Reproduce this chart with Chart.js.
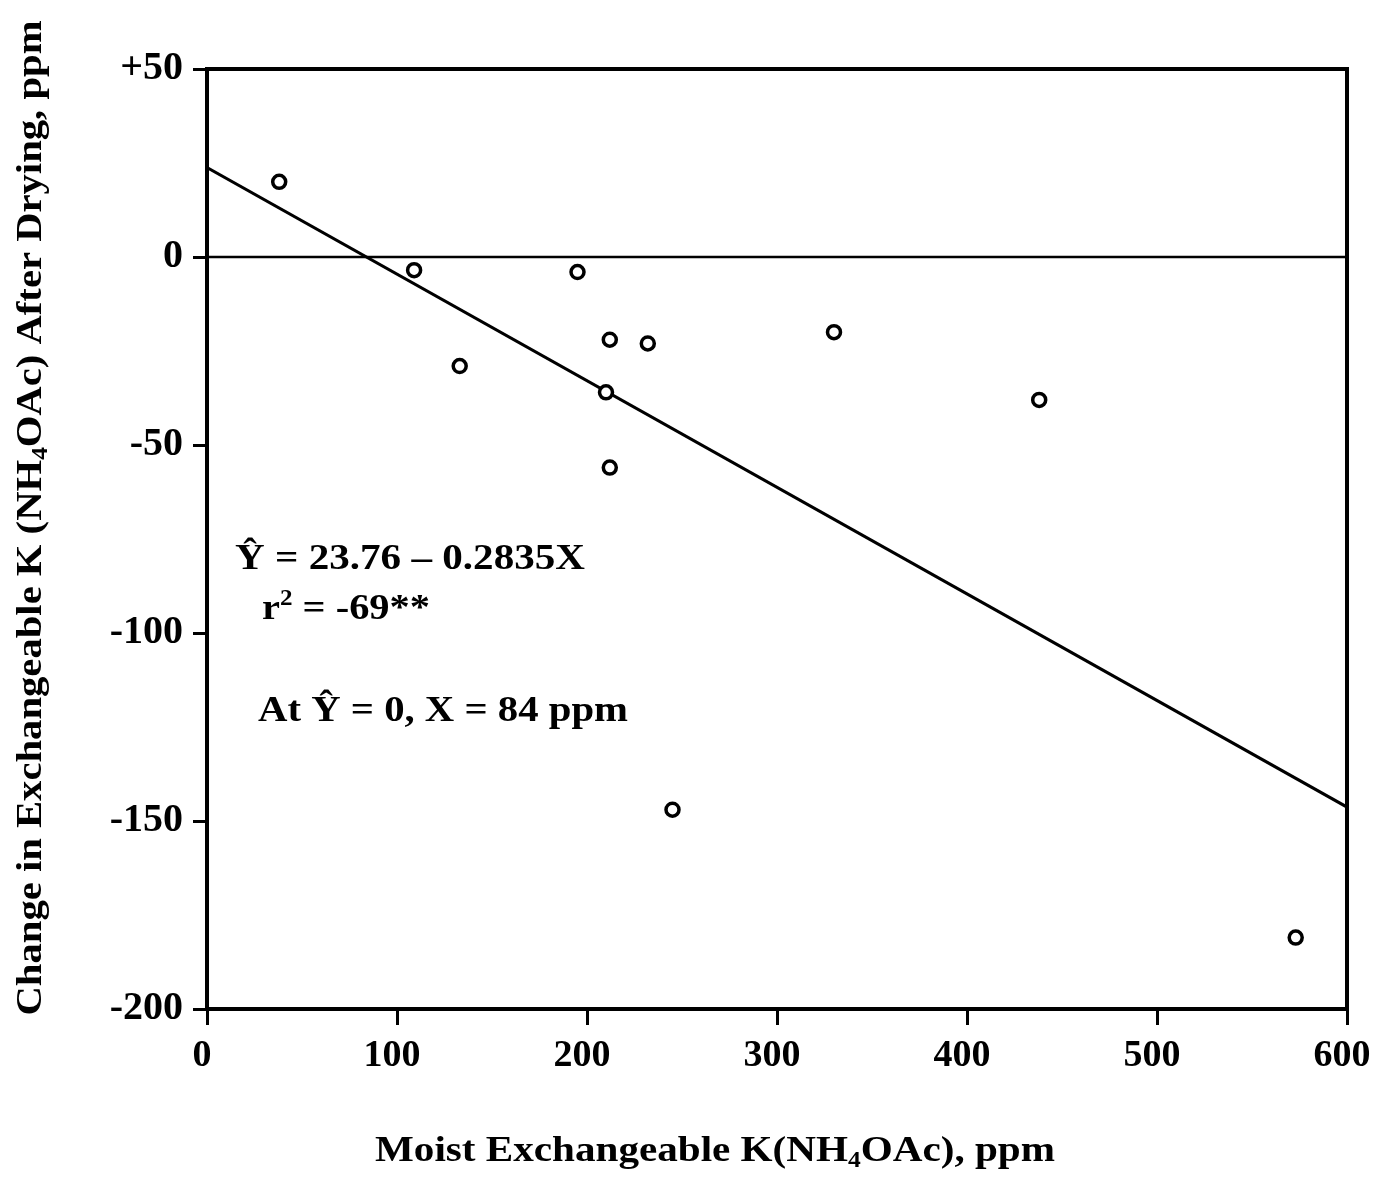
<!DOCTYPE html>
<html>
<head>
<meta charset="utf-8">
<script src="https://cdn.jsdelivr.net/npm/chart.js@4.4.0/dist/chart.umd.min.js"></script>
<style>
  body { margin: 0; background: #fff; }
  #wrap { width: 1373px; height: 1194px; position: relative; }
</style>
</head>
<body>
<div id="wrap"><canvas id="kChart"></canvas></div>
<script>
// Moist exchangeable K (x) vs change after drying (y), ppm
const moistK  = [38, 109, 133, 195, 212, 210, 212, 232, 245, 330, 438, 573];
const changeK = [20, -3.5, -29, -4, -22, -36, -56, -23, -147, -20, -38, -181];

// regression line end points, Y = 23.76 - 0.2835X
const fitX = [0, 600];
const fitY = [23.8, -146.3];

// zero reference line
const zeroX = [0, 600];
const zeroY = [0, 0];

const xTicks = [0, 100, 200, 300, 400, 500, 600];
const yTicks = [50, 0, -50, -100, -150, -200];

const serif = '"Liberation Serif", "Times New Roman", serif';

function toPoints(xs, ys) {
  return xs.map((x, i) => ({ x: x, y: ys[i] }));
}

// draws text runs (normal / sub / sup), stretched sideways to a given width
function drawRuns(ctx, runs, x, y, size, align, width) {
  let total = 0;
  runs.forEach(r => {
    ctx.font = 'bold ' + (r.sub || r.sup ? size * 0.62 : size) + 'px ' + serif;
    total += ctx.measureText(r.t).width;
  });
  const k = width ? width / total : 1;
  ctx.save();
  ctx.translate(x, y);
  ctx.scale(k, 1);
  let cx = align === 'center' ? -total / 2 : 0;
  runs.forEach(r => {
    const s = r.sub || r.sup ? size * 0.62 : size;
    ctx.font = 'bold ' + s + 'px ' + serif;
    let dy = 0;
    if (r.sub) dy = size * 0.18;
    if (r.sup) dy = -size * 0.38;
    ctx.fillText(r.t, cx, dy);
    cx += ctx.measureText(r.t).width;
  });
  ctx.restore();
}

const extras = {
  id: 'extras',
  afterDraw(chart) {
    const ctx = chart.ctx;
    const a = chart.chartArea;
    ctx.save();
    // frame
    ctx.strokeStyle = '#000';
    ctx.lineWidth = 4;
    ctx.strokeRect(a.left, a.top, a.right - a.left, a.bottom - a.top);

    ctx.fillStyle = '#000';
    ctx.textBaseline = 'alphabetic';
    ctx.textAlign = 'left';

    // x axis title
    drawRuns(ctx, [
      { t: 'Moist Exchangeable K(NH' }, { t: '4', sub: true }, { t: 'OAc), ppm' }
    ], 715, 1161, 36, 'center', 680);

    // y axis title
    ctx.save();
    ctx.translate(41, 518);
    ctx.rotate(-Math.PI / 2);
    drawRuns(ctx, [
      { t: 'Change in Exchangeable K (NH' }, { t: '4', sub: true }, { t: 'OAc) After Drying, ppm' }
    ], 0, 0, 36, 'center', 995);
    ctx.restore();

    // regression notes
    drawRuns(ctx, [{ t: 'Ŷ = 23.76 – 0.2835X' }], 235, 569, 36, 'left', 350);
    drawRuns(ctx, [{ t: 'r' }, { t: '2', sup: true }, { t: ' = -69**' }], 262, 619, 36, 'left', 168);
    drawRuns(ctx, [{ t: 'At Ŷ = 0, X = 84 ppm' }], 258, 721, 36, 'left', 370);
    ctx.restore();
  }
};

const ctx = document.getElementById('kChart').getContext('2d');
new Chart(ctx, {
  type: 'scatter',
  data: {
    datasets: [
      {
        label: 'observed',
        data: toPoints(moistK, changeK),
        pointRadius: 6.5,
        pointBorderWidth: 3.5,
        pointBorderColor: '#000',
        pointBackgroundColor: '#fff',
        showLine: false
      },
      {
        label: 'fit',
        data: toPoints(fitX, fitY),
        showLine: true,
        borderColor: '#000',
        borderWidth: 3,
        pointRadius: 0,
        fill: false
      },
      {
        label: 'zero',
        data: toPoints(zeroX, zeroY),
        showLine: true,
        borderColor: '#000',
        borderWidth: 2.5,
        pointRadius: 0,
        fill: false
      }
    ]
  },
  options: {
    responsive: true,
    maintainAspectRatio: false,
    animation: false,
    layout: { padding: { top: 69, right: 26, left: 0, bottom: 0 } },
    plugins: {
      legend: { display: false },
      tooltip: { enabled: false }
    },
    scales: {
      x: {
        type: 'linear',
        min: 0,
        max: 600,
        afterBuildTicks: scale => { scale.ticks = xTicks.map(v => ({ value: v })); },
        afterFit: scale => { scale.height = 185; scale.paddingLeft = 0; scale.paddingRight = 0; },
        border: { display: false },
        grid: { drawOnChartArea: false, drawTicks: true, tickLength: 16, tickWidth: 3, tickColor: '#000' },
        ticks: {
          color: '#000',
          padding: 8,
          maxRotation: 0,
          labelOffset: -5,
          font: { family: serif, size: 38, weight: 'bold' }
        }
      },
      y: {
        type: 'linear',
        min: -200,
        max: 50,
        afterBuildTicks: scale => { scale.ticks = yTicks.map(v => ({ value: v })); },
        afterFit: scale => { scale.width = 207; scale.paddingTop = 0; scale.paddingBottom = 0; },
        border: { display: false },
        grid: { drawOnChartArea: false, drawTicks: true, tickLength: 14, tickWidth: 3, tickColor: '#000' },
        ticks: {
          color: '#000',
          padding: 10,
          callback: v => (v > 0 ? '+' + v : String(v)),
          font: { family: serif, size: 40, weight: 'bold' }
        }
      }
    }
  },
  plugins: [extras]
});
</script>
</body>
</html>
